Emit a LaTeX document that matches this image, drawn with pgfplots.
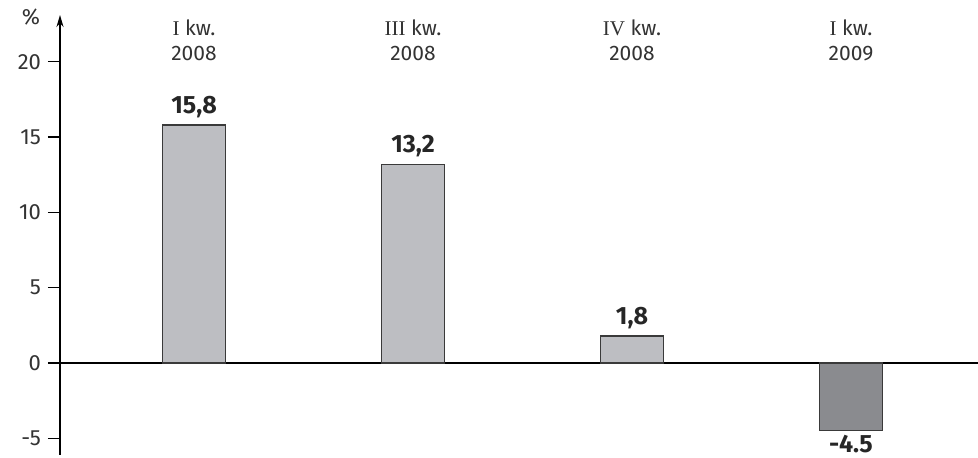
\documentclass[border=0pt]{standalone}
\usepackage{pgfplots}
\pgfplotsset{compat=1.18}
\usepackage{fontspec}
\setmainfont{Fira Sans}
\newfontfamily\romnum{Liberation Serif}
\usetikzlibrary{arrows.meta}
\definecolor{barlight}{HTML}{BDBEC2}
\definecolor{bardark}{HTML}{8A8B8F}
\definecolor{edge}{HTML}{3A3A3A}
\definecolor{txt}{HTML}{333333}
\begin{document}
\begin{tikzpicture}
\begin{axis}[
  scale only axis, width=459pt, height=220pt,
  xmin=-0.612, xmax=3.58, ymin=-6.1, ymax=23.1,
  axis y line=left, axis x line=middle,
  x axis line style={-, line width=0.7pt},
  y axis line style={-{Stealth[length=6pt,width=3.5pt]}, line width=0.9pt},
  xtick=\empty,
  ytick={-5,0,5,10,15,20},
  tick align=outside, major tick length=6pt,
  ytick style={line width=0.7pt, black},
  /pgf/number format/assume math mode=true,
  yticklabel style={font=\fontsize{11}{12}\selectfont, text=txt},
  ybar, bar width=31.5pt, bar shift=0pt,
  point meta=explicit symbolic,
  nodes near coords,
  nodes near coords style={font=\fontsize{12.5}{13}\selectfont\bfseries, text=black!85},
  clip=false,
]
\addplot[fill=barlight, draw=edge, line width=0.6pt] coordinates {(0,15.8)[15,8] (1,13.2)[13,2] (2,1.8)[1,8]};
\addplot[fill=bardark, draw=edge, line width=0.6pt,
  every node near coord/.append style={anchor=north, inner sep=2pt}] coordinates {(3,-4.5)[-4.5]};

\node[align=center, font=\fontsize{10.5}{12.5}\selectfont, text=txt] at (axis cs:0,21.43) {{\romnum I} kw.\\2008};
\node[align=center, font=\fontsize{10.5}{12.5}\selectfont, text=txt] at (axis cs:1,21.43) {{\romnum III} kw.\\2008};
\node[align=center, font=\fontsize{10.5}{12.5}\selectfont, text=txt] at (axis cs:2,21.43) {{\romnum IV} kw.\\2008};
\node[align=center, font=\fontsize{10.5}{12.5}\selectfont, text=txt] at (axis cs:3,21.43) {{\romnum I} kw.\\2009};
\node[font=\fontsize{11}{12}\selectfont, text=txt] at ([shift={(-14.5pt,-1pt)}]rel axis cs:0,1) {\%};
\coordinate (bl) at (rel axis cs:0,0);
\coordinate (tr) at (rel axis cs:1,1);
\end{axis}
\pgfresetboundingbox
\useasboundingbox ([shift={(-30pt,-1.5pt)}]bl) rectangle ([shift={(0pt,7.5pt)}]tr);
\end{tikzpicture}
\end{document}
